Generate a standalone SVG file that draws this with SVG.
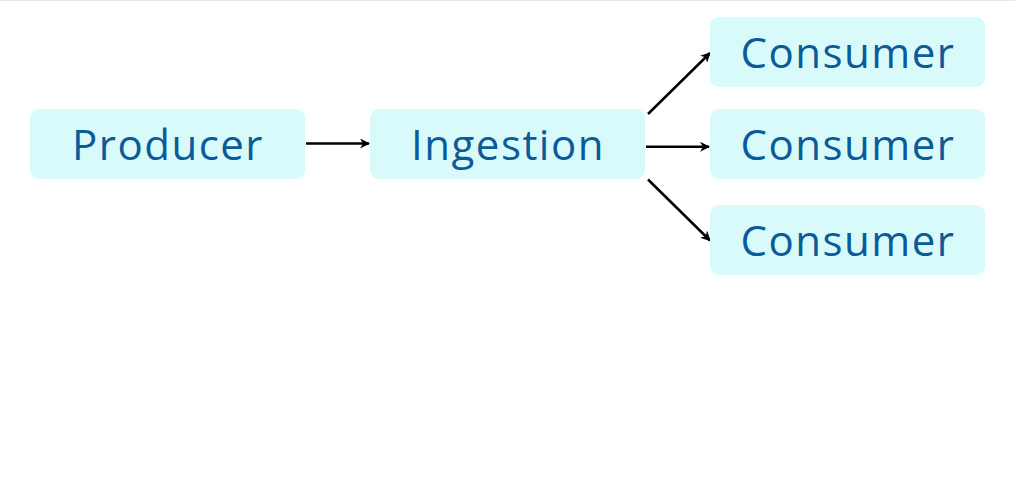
<svg xmlns="http://www.w3.org/2000/svg" width="1015" height="492" viewBox="0 0 1015 492">
<style>
.box{fill:#d9fafa}
.lbl{font-family:"Open Sans","Liberation Sans",sans-serif;font-size:42px;fill:#0b5a9a;text-anchor:middle;letter-spacing:1.5px}
.edge{stroke:#000;stroke-width:2.5;fill:none;marker-end:url(#arr)}
</style>
<defs>
<marker id="arr" viewBox="0 0 10 10" refX="9" refY="5" markerWidth="4" markerHeight="4" markerUnits="strokeWidth" orient="auto">
<path d="M0,0 L10,5 L0,10 L3,5 z" fill="#000"/>
</marker>
</defs>
<rect x="0" y="0" width="1015" height="492" fill="#fff"/>
<line x1="0" y1="0.5" x2="1015" y2="0.5" stroke="#e8e8e8" stroke-width="1"/>
<g id="connectors">
<line class="edge" x1="306" y1="143.5" x2="369" y2="143.5"/>
<line class="edge" x1="648" y1="114" x2="710" y2="53"/>
<line class="edge" x1="646" y1="146.7" x2="709" y2="146.7"/>
<line class="edge" x1="648" y1="179.5" x2="710" y2="240.5"/>
</g>
<g id="producer"><rect class="box" x="30" y="109" width="275" height="70" rx="9"/><text class="lbl" x="168" y="160">Producer</text></g>
<g id="ingestion"><rect class="box" x="370" y="109" width="275" height="70" rx="9"/><text class="lbl" x="508" y="160">Ingestion</text></g>
<g id="consumer1"><rect class="box" x="710" y="17" width="275" height="70" rx="9"/><text class="lbl" x="848" y="68">Consumer</text></g>
<g id="consumer2"><rect class="box" x="710" y="109" width="275" height="70" rx="9"/><text class="lbl" x="848" y="160">Consumer</text></g>
<g id="consumer3"><rect class="box" x="710" y="205" width="275" height="70" rx="9"/><text class="lbl" x="848" y="256">Consumer</text></g>
</svg>
